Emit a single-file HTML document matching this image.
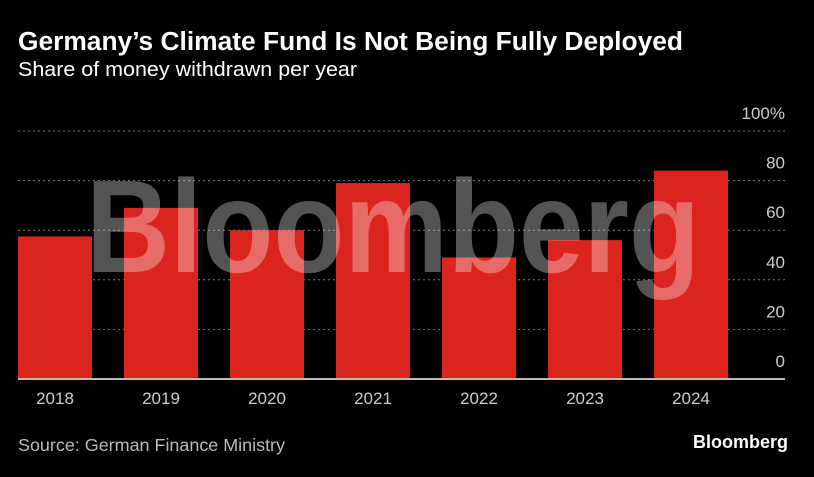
<!DOCTYPE html>
<html><head><meta charset="utf-8"><style>
body{margin:0;background:#000;width:814px;height:472px;overflow:hidden;font-family:"Liberation Sans",sans-serif}
</style></head><body>
<svg width="814" height="472">
<text x="18" y="50" fill="#fff" font-weight="bold" font-size="25.5" textLength="665" lengthAdjust="spacingAndGlyphs">Germany’s Climate Fund Is Not Being Fully Deployed</text>
<text x="18" y="76" fill="#fff" font-size="20.5" textLength="339" lengthAdjust="spacingAndGlyphs">Share of money withdrawn per year</text>
<g id="grid"></g><g id="bars"></g>
<text x="86" y="272" textLength="614" lengthAdjust="spacingAndGlyphs" font-size="132" font-weight="bold" fill="#fff" fill-opacity="0.33">Bloomberg</text>
<line x1="18" x2="785" y1="379" y2="379" stroke="#bbb" stroke-width="2"/>
<g id="xl"></g>
<text x="18" y="451" fill="#bbb" font-size="17.5" textLength="267" lengthAdjust="spacingAndGlyphs">Source: German Finance Ministry</text>
<text x="788" y="448" fill="#fff" font-size="18" font-weight="bold" text-anchor="end">Bloomberg</text>
</svg>
<script>
const categories=["2018","2019","2020","2021","2022","2023","2024"];
const values=[57.5,69,60,79,49,56,84];
const ticks=[0,20,40,60,80,100];
const tickLabels=["0","20","40","60","80","100%"];
const ns="http://www.w3.org/2000/svg";
const y=v=>379-v*2.48;
const x=i=>18+i*106;
const g=document.getElementById('grid'),b=document.getElementById('bars'),xl=document.getElementById('xl');
ticks.forEach((t,i)=>{
 if(t>0){const l=document.createElementNS(ns,'line');
 
 
 l.setAttribute('x1',18);l.setAttribute('x2',785);l.setAttribute('y1',y(t));l.setAttribute('y2',y(t));
 l.setAttribute('stroke','#777');l.setAttribute('stroke-dasharray','2 3');g.appendChild(l);}
 const tx=document.createElementNS(ns,'text');
 
 
 tx.setAttribute('x',785);tx.setAttribute('y',y(t)-12);tx.setAttribute('text-anchor','end');
 tx.setAttribute('fill','#ccc');tx.setAttribute('font-size','17');tx.textContent=tickLabels[i];g.appendChild(tx);
});
categories.forEach((c,i)=>{
 const r=document.createElementNS(ns,'rect');
 
 
 r.setAttribute('x',x(i));r.setAttribute('width',74);r.setAttribute('y',y(values[i]));r.setAttribute('height',379-y(values[i]));
 r.setAttribute('fill','#dc241f');b.appendChild(r);
 const t=document.createElementNS(ns,'text');
 
 
 t.setAttribute('x',x(i)+37);t.setAttribute('y',404);t.setAttribute('text-anchor','middle');
 t.setAttribute('fill','#ccc');t.setAttribute('font-size','17');t.textContent=c;xl.appendChild(t);
});
</script>
</body></html>
